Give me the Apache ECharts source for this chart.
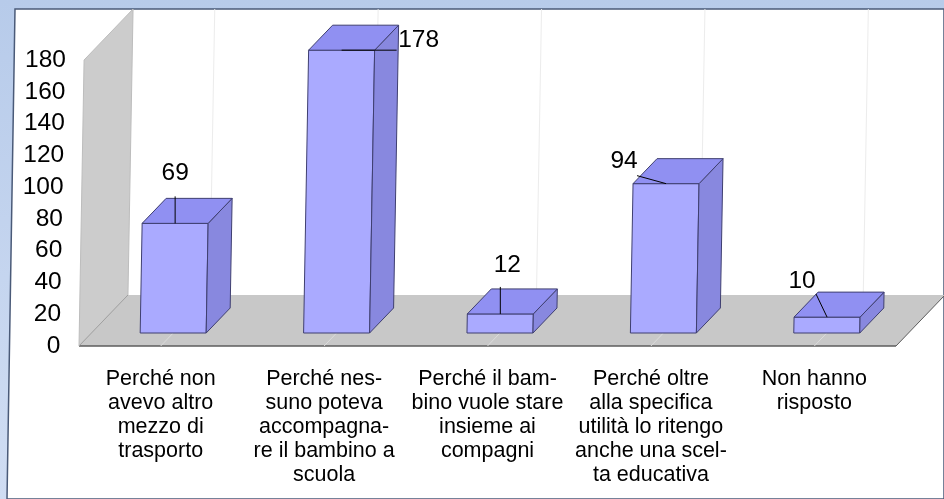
<!DOCTYPE html>
<html>
<head>
<meta charset="utf-8">
<title>Grafico</title>
<style>
  html, body { margin: 0; padding: 0; background: #fff; }
  #chart { width: 944px; height: 499px; }
</style>
<script src="https://cdn.jsdelivr.net/npm/echarts@6/dist/echarts.min.js"></script>
</head>
<body>
<div id="chart"></div>
<script>
const categories = [
  "Perché non\navevo altro\nmezzo di\ntrasporto",
  "Perché nes-\nsuno poteva\naccompagna-\nre il bambino a\nscuola",
  "Perché il bam-\nbino vuole stare\ninsieme ai\ncompagni",
  "Perché oltre\nalla specifica\nutilità lo ritengo\nanche una scel-\nta educativa",
  "Non hanno\nrisposto",
];
const values = [69, 178, 12, 94, 10];
const tickLabels = [0, 20, 40, 60, 80, 100, 120, 140, 160, 180];

// the picture is slightly skewed, verticals lean to the right going up
const SHEAR = 0.0178;
const DEPTH_X = 0.96;
const FLOOR_DEPTH = 51;
const BAR_NEAR = 13;
const BAR_DEPTH = 25;
const BAR_WIDTH = 66;

const COLORS = {
  front: "#aaaaff",
  top: "#9090f2",
  side: "#8888df",
  edge: "#3f3f70",
  wall: "#cccccc",
  floor: "#c8c8c8",
};

// leader end and label centre, relative to the middle of the bar's top front edge
const leaders = [
  { line: [0, -27], text: [0, -51] },
  { line: [55, 0], text: [77, -11] },
  { line: [0, -27], text: [7, -50] },
  { line: [-29, -8], text: [-42, -23] },
  { line: [-11, -23], text: [-25, -37] },
];

const FONT = '"Liberation Sans", Arial, sans-serif';

const chart = echarts.init(document.getElementById("chart"));

// project a point: x,y on the front plane, d = depth into the chart
const project = (baseY, x, y, d = 0) => [
  x + d * DEPTH_X + (baseY - y) * SHEAR,
  y - d,
];

const poly = (points, fill, stroke, width = 1) => ({
  type: "polygon",
  shape: { points },
  style: { fill, stroke, lineWidth: width },
});

const line = (a, b, stroke, width = 1) => ({
  type: "line",
  shape: { x1: a[0], y1: a[1], x2: b[0], y2: b[1] },
  style: { stroke, lineWidth: width },
});

const renderBackdrop = (params, api) => {
  const { x, y, width, height } = params.coordSys;
  const base = y + height;
  const p = (px, py, d) => project(base, px, py, d);
  const right = x + width;
  const children = [
    poly([p(x, y), p(x, y, FLOOR_DEPTH), p(x, base, FLOOR_DEPTH), p(x, base)], COLORS.wall, "#bdbdbd"),
    poly([p(x, base), p(right, base), p(right, base, FLOOR_DEPTH), p(x, base, FLOOR_DEPTH)], COLORS.floor, null),
    line(p(x, base), p(right, base), "#5c5c5c", 1.5),
    line(p(right, base), p(right, base, FLOOR_DEPTH), "#5c5c5c"),
    line(p(x, base), p(x, base, FLOOR_DEPTH), "#a0a0a0"),
  ];
  categories.forEach((c, i) => {
    const cx = api.coord([i, 0])[0];
    children.push(line(p(cx, base, FLOOR_DEPTH), p(cx, y, FLOOR_DEPTH), "#ececec"));
    children.push(line(p(cx, base), p(cx, base, FLOOR_DEPTH), "#dcdcdc"));
  });
  return { type: "group", children };
};

const renderBar = (params, api) => {
  const i = api.value(0);
  const top = api.coord([i, api.value(1)]);
  const bottom = api.coord([i, 0]);
  const base = bottom[1];
  const left = top[0] - BAR_WIDTH / 2;
  const right = top[0] + BAR_WIDTH / 2;
  const p = (px, py, d) => project(base, px, py, d);
  const near = BAR_NEAR;
  const far = BAR_NEAR + BAR_DEPTH;

  return {
    type: "group",
    children: [
      poly([p(left, base, near), p(right, base, near), p(right, top[1], near), p(left, top[1], near)], COLORS.front, COLORS.edge),
      poly([p(right, base, near), p(right, base, far), p(right, top[1], far), p(right, top[1], near)], COLORS.side, COLORS.edge),
      poly([p(left, top[1], near), p(right, top[1], near), p(right, top[1], far), p(left, top[1], far)], COLORS.top, COLORS.edge),
    ],
  };
};

const renderLabel = (params, api) => {
  const i = api.value(0);
  const top = api.coord([i, api.value(1)]);
  const base = api.coord([i, 0])[1];
  const a = project(base, top[0], top[1], BAR_NEAR);
  const { line: end, text } = leaders[i];
  return {
    type: "group",
    children: [
      line(a, [a[0] + end[0], a[1] + end[1]], "#000000"),
      {
        type: "text",
        style: {
          x: a[0] + text[0],
          y: a[1] + text[1] + 1,
          text: String(api.value(1)),
          fontFamily: FONT,
          fontSize: 24.5,
          fill: "#000000",
          align: "center",
          verticalAlign: "middle",
        },
      },
    ],
  };
};

const barData = values.map((v, i) => [i, v]);

// one rich style per tick so the labels can follow the skew
const tickRich = {};
tickLabels.forEach((t) => {
  tickRich["t" + t] = {
    fontFamily: FONT,
    fontSize: 24.5,
    color: "#000000",
    padding: [0, (180 - t) * 0.031, 0, 0],
  };
});

chart.setOption({
  animation: false,
  backgroundColor: {
    type: "linear",
    x: 0,
    y: 0,
    x2: 0,
    y2: 1,
    colorStops: [
      { offset: 0, color: "#b7cbea" },
      { offset: 1, color: "#d0ddf3" },
    ],
  },
  graphic: [
    {
      type: "polygon",
      shape: { points: [[15, 9], [944, 9], [944, 499], [7, 499]] },
      style: { fill: "#ffffff", stroke: "#4a5a78", lineWidth: 1.5 },
      z: 0,
    },
  ],
  grid: { left: 79, top: 60, width: 817, height: 286 },
  xAxis: {
    type: "category",
    data: categories,
    axisLine: { show: false },
    axisTick: { show: false },
    axisLabel: {
      interval: 0,
      margin: 21,
      color: "#000000",
      fontFamily: FONT,
      fontSize: 21.5,
      lineHeight: 24,
      align: "center",
    },
  },
  yAxis: {
    type: "value",
    min: 0,
    max: 180,
    interval: 20,
    axisLine: { show: false },
    axisTick: { show: false },
    splitLine: { show: false },
    axisLabel: {
      margin: 13,
      formatter: (v) => `{t${v}|${v}}`,
      rich: tickRich,
    },
  },
  series: [
    {
      type: "custom",
      renderItem: renderBackdrop,
      data: [[0, 0]],
      encode: { x: 0, y: 1 },
      silent: true,
      z: 1,
    },
    {
      type: "custom",
      renderItem: renderBar,
      data: barData,
      encode: { x: 0, y: 1 },
      z: 2,
    },
    {
      type: "custom",
      renderItem: renderLabel,
      data: barData,
      encode: { x: 0, y: 1 },
      z: 3,
    },
  ],
});

window.addEventListener("resize", () => chart.resize());
</script>
</body>
</html>
